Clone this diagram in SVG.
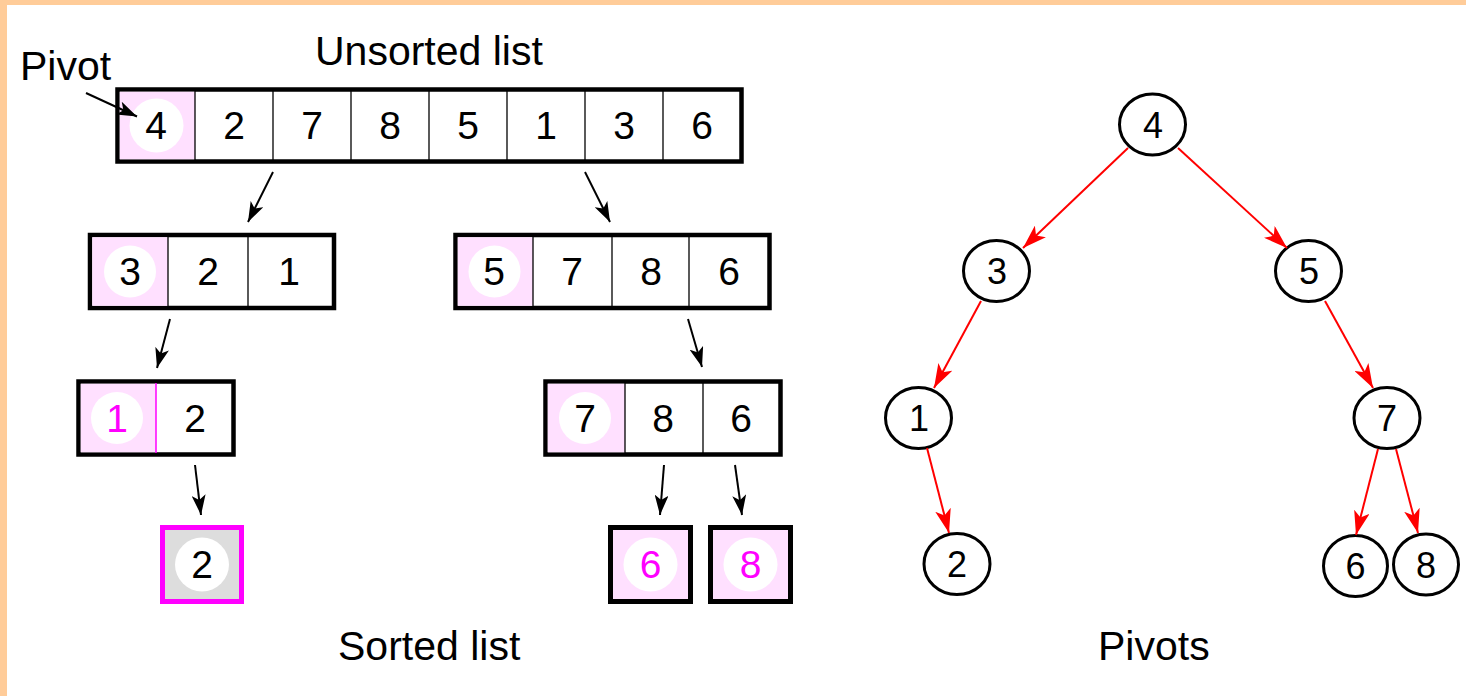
<svg xmlns="http://www.w3.org/2000/svg" width="1466" height="696" viewBox="0 0 1466 696">
<defs>
<style>
.lbl{font-family:"Liberation Sans",Arial,sans-serif;font-size:41px;fill:#000}
.d{font-family:"Liberation Sans",Arial,sans-serif;font-size:39px;fill:#000;text-anchor:middle}
.dm{fill:#FF00FF}
.t{font-family:"Liberation Sans",Arial,sans-serif;font-size:36px;fill:#000;text-anchor:middle}
.box{fill:#fff;stroke:#000;stroke-width:4.5}
.piv{fill:#FFE0FF}
.wc{fill:#fff}
.div{stroke:#000;stroke-width:1.3}
.node{fill:#fff;stroke:#000;stroke-width:3}
.ka{stroke:#000;stroke-width:2;fill:none;marker-end:url(#ak)}
.ra{stroke:#FF0000;stroke-width:2;fill:none;marker-end:url(#ar)}
</style>
<marker id="ak" viewBox="0 0 20 14" refX="20" refY="7" markerWidth="20" markerHeight="14" markerUnits="userSpaceOnUse" orient="auto"><path d="M0,0 L20,7 L0,14 L5,7 z" fill="#000"/></marker>
<marker id="ar" viewBox="0 0 24 16" refX="24" refY="8" markerWidth="24" markerHeight="16" markerUnits="userSpaceOnUse" orient="auto"><path d="M0,0 L24,8 L0,16 L6,8 z" fill="#FF0000"/></marker>
</defs>
<rect x="0" y="0" width="1466" height="696" fill="#fff"/>
<rect x="0" y="0" width="1466" height="5" fill="#FFCC99"/>
<rect x="0" y="0" width="7" height="696" fill="#FFCC99"/>

<text class="lbl" x="20" y="80" font-size="39">Pivot</text>
<text class="lbl" x="315" y="65">Unsorted list</text>
<text class="lbl" x="338" y="660">Sorted list</text>
<text class="lbl" x="1098" y="660">Pivots</text>

<g id="list-unsorted">
<rect class="box" x="117.5" y="89.5" width="624" height="72"/>
<rect class="piv" x="119.75" y="91.75" width="75.25" height="67.5"/>
<circle class="wc" cx="156.5" cy="125.5" r="27"/>
<line class="div" x1="195" y1="91" x2="195" y2="160"/>
<line class="div" x1="273" y1="91" x2="273" y2="160"/>
<line class="div" x1="351" y1="91" x2="351" y2="160"/>
<line class="div" x1="429" y1="91" x2="429" y2="160"/>
<line class="div" x1="507" y1="91" x2="507" y2="160"/>
<line class="div" x1="585" y1="91" x2="585" y2="160"/>
<line class="div" x1="663" y1="91" x2="663" y2="160"/>
<text class="d" x="156" y="139">4</text>
<text class="d" x="234" y="139">2</text>
<text class="d" x="312" y="139">7</text>
<text class="d" x="390" y="139">8</text>
<text class="d" x="468" y="139">5</text>
<text class="d" x="546" y="139">1</text>
<text class="d" x="624" y="139">3</text>
<text class="d" x="702" y="139">6</text>
</g>

<g id="list-321">
<rect class="box" x="90" y="235" width="244" height="73"/>
<rect class="piv" x="92.25" y="237.25" width="75.75" height="68.5"/>
<circle class="wc" cx="130" cy="271.5" r="26"/>
<line class="div" x1="168" y1="237" x2="168" y2="306"/>
<line class="div" x1="248" y1="237" x2="248" y2="306"/>
<text class="d" x="130" y="285">3</text>
<text class="d" x="208" y="285">2</text>
<text class="d" x="289" y="285">1</text>
</g>

<g id="list-5786">
<rect class="box" x="455.5" y="235" width="314" height="73"/>
<rect class="piv" x="457.75" y="237.25" width="75.25" height="68.5"/>
<circle class="wc" cx="494.5" cy="271.5" r="26"/>
<line class="div" x1="533" y1="237" x2="533" y2="306"/>
<line class="div" x1="612" y1="237" x2="612" y2="306"/>
<line class="div" x1="689" y1="237" x2="689" y2="306"/>
<text class="d" x="494" y="285">5</text>
<text class="d" x="572" y="285">7</text>
<text class="d" x="651" y="285">8</text>
<text class="d" x="729" y="285">6</text>
</g>

<g id="list-12">
<rect class="box" x="78.5" y="381.5" width="155" height="73"/>
<rect class="piv" x="80.75" y="383.75" width="75.25" height="68.5"/>
<circle class="wc" cx="117" cy="418" r="26"/>
<line x1="156" y1="383" x2="156" y2="453" stroke="#FF00FF" stroke-width="1.5"/>
<text class="d dm" x="117" y="432">1</text>
<text class="d" x="195" y="432">2</text>
</g>

<g id="list-786">
<rect class="box" x="545.5" y="381.5" width="235" height="73"/>
<rect class="piv" x="547.75" y="383.75" width="77.25" height="68.5"/>
<circle class="wc" cx="585" cy="418" r="26"/>
<line class="div" x1="625" y1="383" x2="625" y2="453"/>
<line class="div" x1="703" y1="383" x2="703" y2="453"/>
<text class="d" x="585" y="432">7</text>
<text class="d" x="663" y="432">8</text>
<text class="d" x="741" y="432">6</text>
</g>

<g id="list-2">
<rect x="162.5" y="527.5" width="79" height="74" fill="#DDDDDD" stroke="#FF00FF" stroke-width="5"/>
<circle class="wc" cx="202" cy="564.5" r="27"/>
<text class="d" x="202" y="578">2</text>
</g>
<g id="list-6">
<rect class="piv" x="610.5" y="527.5" width="80" height="74" stroke="#000" stroke-width="5"/>
<circle class="wc" cx="650.5" cy="564.5" r="27"/>
<text class="d dm" x="650.5" y="578">6</text>
</g>
<g id="list-8">
<rect class="piv" x="710.5" y="527.5" width="80" height="74" stroke="#000" stroke-width="5"/>
<circle class="wc" cx="750.5" cy="564.5" r="27"/>
<text class="d dm" x="750.5" y="578">8</text>
</g>

<g id="tree-4"><ellipse class="node" cx="1152.5" cy="124.5" rx="33" ry="30.5"/><text class="t" x="1153" y="138">4</text></g>
<g id="tree-3"><ellipse class="node" cx="996.5" cy="271" rx="33" ry="30.5"/><text class="t" x="997" y="284">3</text></g>
<g id="tree-5"><ellipse class="node" cx="1308.5" cy="271" rx="33" ry="30.5"/><text class="t" x="1309" y="284">5</text></g>
<g id="tree-1"><ellipse class="node" cx="918.5" cy="418" rx="33" ry="30.5"/><text class="t" x="919" y="431">1</text></g>
<g id="tree-7"><ellipse class="node" cx="1387" cy="418" rx="33" ry="30.5"/><text class="t" x="1387" y="431">7</text></g>
<g id="tree-2"><ellipse class="node" cx="957" cy="564" rx="33" ry="30.5"/><text class="t" x="957" y="577">2</text></g>
<g id="tree-6"><ellipse class="node" cx="1355.5" cy="566" rx="32" ry="30.5"/><text class="t" x="1355.5" y="579">6</text></g>
<g id="tree-8"><ellipse class="node" cx="1426" cy="564.5" rx="32.5" ry="30.5"/><text class="t" x="1426" y="578">8</text></g>

<g id="connectors">
<line class="ka" x1="86" y1="93" x2="137" y2="116.5"/>
<line class="ka" x1="273" y1="172" x2="248" y2="222"/>
<line class="ka" x1="585" y1="172" x2="610" y2="222"/>
<line class="ka" x1="170" y1="319" x2="157" y2="368"/>
<line class="ka" x1="688" y1="319" x2="702" y2="367"/>
<line class="ka" x1="195" y1="465" x2="201" y2="515"/>
<line class="ka" x1="664" y1="465" x2="660" y2="515"/>
<line class="ka" x1="735" y1="465" x2="742" y2="515"/>
<line class="ra" x1="1128" y1="148" x2="1023" y2="248"/>
<line class="ra" x1="1178" y1="148" x2="1287" y2="248"/>
<line class="ra" x1="981" y1="301" x2="934" y2="388"/>
<line class="ra" x1="1325" y1="301" x2="1373" y2="388"/>
<line class="ra" x1="927" y1="448" x2="949" y2="533"/>
<line class="ra" x1="1378" y1="449" x2="1356" y2="535"/>
<line class="ra" x1="1396" y1="449" x2="1418" y2="533"/>
</g>
</svg>
